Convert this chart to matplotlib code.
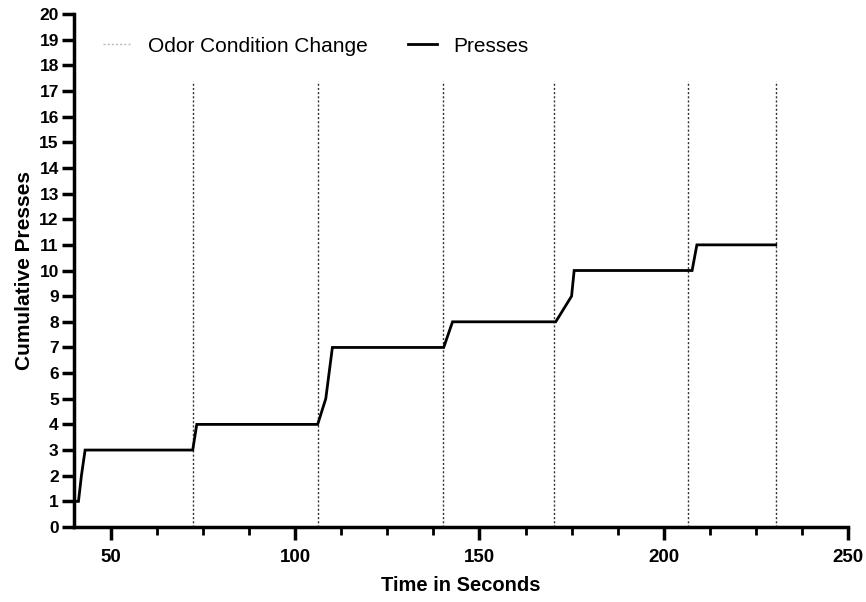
import matplotlib
matplotlib.use("Agg")
import matplotlib.pyplot as plt
from matplotlib.ticker import MultipleLocator

# Cumulative presses over time
time_s = [40.0, 41.2, 42.0, 43.0, 72.2, 73.3, 106.1, 108.3, 109.2, 110.1,
          140.3, 142.7, 170.7, 175.0, 175.7, 207.7, 209.0, 230.4]
presses = [1, 1, 2, 3, 3, 4, 4, 5, 6, 7,
           7, 8, 8, 9, 10, 10, 11, 11]

# Times where the odor condition changed
odor_changes = [72.2, 106.1, 140.0, 170.2, 206.7, 230.6]
odor_line_top = 17.4

plt.rcParams["font.family"] = ["Liberation Sans", "DejaVu Sans"]

fig = plt.figure(figsize=(8.66, 6.02), dpi=100)
ax = fig.add_axes([0.0855, 0.1246, 0.8937, 0.8521])

for i, t in enumerate(odor_changes):
    ax.plot([t, t], [0, odor_line_top], color="#333333", linestyle=(0, (1.5, 1.5)),
            linewidth=1.0, label="Odor Condition Change" if i == 0 else None)

ax.plot(time_s, presses, color="black", linewidth=2.0, label="Presses",
        solid_joinstyle="miter", zorder=3)

ax.set_xlim(40, 250)
ax.set_ylim(0, 20)
ax.xaxis.set_major_locator(MultipleLocator(50))
ax.xaxis.set_minor_locator(MultipleLocator(12.5))
ax.yaxis.set_major_locator(MultipleLocator(1))

for side in ["top", "right"]:
    ax.spines[side].set_visible(False)
for side in ["left", "bottom"]:
    ax.spines[side].set_linewidth(2.5)

ax.tick_params(axis="both", which="major", direction="out", width=2.5, length=9)
ax.tick_params(axis="x", which="minor", direction="out", width=2, length=6)
ax.tick_params(axis="y", pad=2, labelsize=12.5)
ax.tick_params(axis="x", pad=7, labelsize=13.5)
for lbl in ax.get_xticklabels() + ax.get_yticklabels():
    lbl.set_fontweight("bold")

ax.set_xlabel("Time in Seconds", fontsize=14.5, fontweight="bold", labelpad=7)
ax.set_ylabel("Cumulative Presses", fontsize=15, fontweight="bold", labelpad=4)

handles, labels = ax.get_legend_handles_labels()
handles[0].set_color("#bbbbbb")
leg = ax.legend(handles, labels, loc="center left", bbox_to_anchor=(0.0375, 0.9376),
                ncol=2, frameon=False, fontsize=15, handlelength=1.4,
                columnspacing=1.9, handletextpad=0.77, borderpad=0,
                borderaxespad=0)
handles[0].set_color("#333333")

fig.savefig("out.png", dpi=100)
